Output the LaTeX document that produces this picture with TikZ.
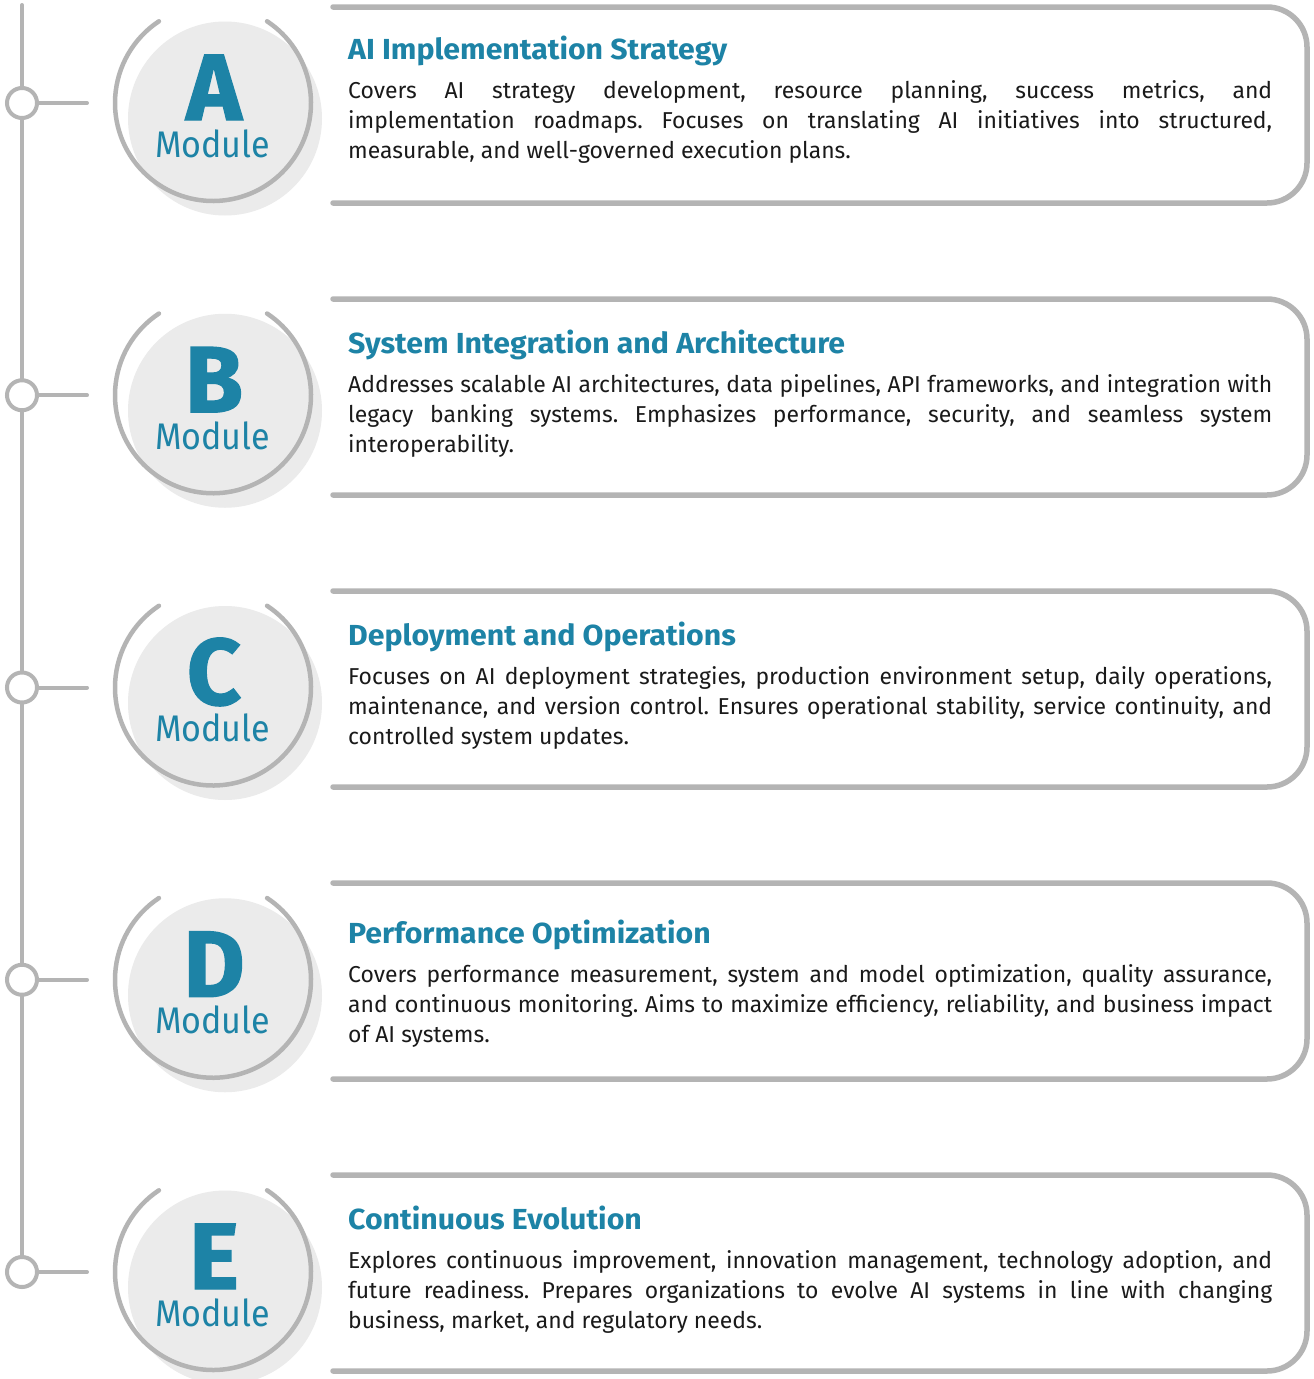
\documentclass[tikz,border=0pt]{standalone}
\usepackage{tikz}
\usepackage{fontspec}
\setmainfont{Fira Sans}
\frenchspacing
\definecolor{modteal}{HTML}{1D83A6}
\definecolor{lgray}{HTML}{B4B4B4}
\definecolor{lfill}{HTML}{EBEBEB}
\definecolor{bodyblack}{HTML}{1A1A1A}
\newlength\natwa
\newlength\natwb
\newlength\natwc
\settowidth\natwa{\fontsize{23}{30}\selectfont Addresses scalable AI architectures, data pipelines, API frameworks, and integration with}
\settowidth\natwb{\fontsize{23}{30}\selectfont maintenance, and version control. Ensures operational stability, service continuity, and}
\settowidth\natwc{\fontsize{23}{30}\selectfont and continuous monitoring. Aims to maximize efficiency, reliability, and business impact}
\pgfmathsetmacro\bstretch{920/max(\natwa,\natwb,\natwc)}
\settowidth\natwa{\bfseries\fontsize{29}{34}\selectfont System Integration and Architecture}
\pgfmathsetmacro\tstretch{497/\natwa}
\settowidth\natwa{\fontsize{37}{40}\selectfont Module}
\pgfmathsetmacro\mstretch{115/\natwa}
\edef\mydefs{%
  \noexpand\newfontfamily\noexpand\bodyfont[FakeStretch=\bstretch]{Fira Sans}%
  \noexpand\newfontfamily\noexpand\titlefont[FakeStretch=\tstretch]{Fira Sans}%
  \noexpand\newfontfamily\noexpand\modfont[FakeStretch=\mstretch]{Fira Sans}%
}
\mydefs
\newfontfamily\letterfont[BoldFeatures={FakeBold=1.5}]{Fira Sans}
\newcommand\mjline[1]{\hbox to 924pt{#1}}
\newcommand\mlast[1]{\hbox{#1}}
\newcommand\drawmodule[5]{%
  \pgfmathsetmacro\cy{103+292.25*#1}%
  \pgfmathsetmacro\by{7+292*#1}%
  \node[disc] (disc#2) at (225,\cy+15.5) {};
  \draw[ringarc] (213,\cy) ++(-56.5:98) arc[start angle=-56.5,end angle=236.5,radius=98];
  \node[bigletter] (letter#2) at (214,\cy+17) {#2};
  \node[modlabel] (mod#2) at (212.5,\cy+54) {Module};
  \node[dotnode] (dot#2) at (22,\cy) {};
  \coordinate (stub#2) at (87,\cy);
  \draw[gline] (dot#2.east) -- (stub#2);
  \draw[boxline] (333,\by) -- (1307,\by) -- (1307,\by+196) -- (333,\by+196);
  \node[titletext] (title#2) at (348,\by+#3) {#4};
  \node[bodytext] (body#2) at (348,\by+#3+39) {\vtop{#5}};
}
\begin{document}
\begin{tikzpicture}[x=1pt,y=-1pt,
  gline/.style={draw=lgray,line width=4pt,line cap=round},
  ringarc/.style={draw=lgray,line width=4.5pt,line cap=round},
  boxline/.style={draw=lgray,line width=5.5pt,line cap=round,rounded corners=40pt},
  dotnode/.style={circle,draw=lgray,line width=4pt,fill=white,minimum size=30pt,inner sep=0pt},
  disc/.style={circle,fill=lfill,minimum size=194pt,inner sep=0pt},
  bigletter/.style={text=modteal,inner sep=0pt,anchor=base,text depth=0pt,text height=65pt,font=\letterfont\bfseries\fontsize{94}{94}\selectfont},
  modlabel/.style={text=modteal,inner sep=0pt,anchor=base,text height=26pt,font=\modfont\fontsize{37}{40}\selectfont},
  titletext/.style={text=modteal,inner sep=0pt,anchor=base west,font=\titlefont\bfseries\fontsize{29}{34}\selectfont},
  bodytext/.style={text=bodyblack,inner sep=0pt,anchor=base west,font=\bodyfont\fontsize{23}{30}\selectfont},
]
\useasboundingbox (0,0) rectangle (1314,1379);
\fill[white] (0,0) rectangle (1314,1379);
\coordinate (top) at (22,5);

\drawmodule{0}{A}{52}{AI Implementation Strategy}{%
  \mjline{Covers AI strategy development, resource planning, success metrics, and}%
  \mjline{implementation roadmaps. Focuses on translating AI initiatives into structured,}%
  \mlast{measurable, and well-governed execution plans.}}

\drawmodule{1}{B}{54}{System Integration and Architecture}{%
  \mjline{Addresses scalable AI architectures, data pipelines, API frameworks, and integration with}%
  \mjline{legacy banking systems. Emphasizes performance, security, and seamless system}%
  \mlast{interoperability.}}

\drawmodule{2}{C}{54}{Deployment and Operations}{%
  \mjline{Focuses on AI deployment strategies, production environment setup, daily operations,}%
  \mjline{maintenance, and version control. Ensures operational stability, service continuity, and}%
  \mlast{controlled system updates.}}

\drawmodule{3}{D}{60}{Performance Optimization}{%
  \mjline{Covers performance measurement, system and model optimization, quality assurance,}%
  \mjline{and continuous monitoring. Aims to maximize efficiency, reliability, and business impact}%
  \mlast{of AI systems.}}

\drawmodule{4}{E}{54}{Continuous Evolution}{%
  \mjline{Explores continuous improvement, innovation management, technology adoption, and}%
  \mjline{future readiness. Prepares organizations to evolve AI systems in line with changing}%
  \mlast{business, market, and regulatory needs.}}

\draw[gline] (top) -- (dotA.north);
\draw[gline] (dotA.south) -- (dotB.north);
\draw[gline] (dotB.south) -- (dotC.north);
\draw[gline] (dotC.south) -- (dotD.north);
\draw[gline] (dotD.south) -- (dotE.north);
\end{tikzpicture}
\end{document}
